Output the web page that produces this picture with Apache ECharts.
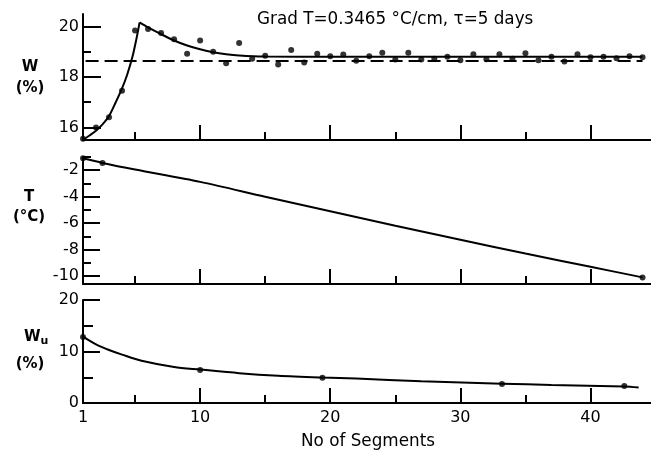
<!DOCTYPE html>
<html>
<head>
<meta charset="utf-8">
<script src="https://cdn.jsdelivr.net/npm/echarts@6/dist/echarts.min.js"></script>
<style>
  html, body { margin: 0; padding: 0; background: #fff; }
  #chart { width: 651px; height: 454px; }
</style>
</head>
<body>
<div id="chart"></div>
<script>
// ---- data ----
// Segment numbers of the measured column
const segments = [1, 2, 3, 4, 5, 6, 7, 8, 9, 10, 11, 12, 13, 14, 15, 16, 17, 18, 19, 20, 21, 22,
  23, 24, 25, 26, 27, 28, 29, 30, 31, 32, 33, 34, 35, 36, 37, 38, 39, 40, 41, 42, 43, 44];
// Measured total water content W (%) per segment
const wMeasured = [15.55, 16.0, 16.4, 17.45, 19.85, 19.9, 19.75, 19.5, 18.92, 19.45, 19.0, 18.55,
  19.35, 18.72, 18.84, 18.5, 19.07, 18.58, 18.92, 18.82, 18.89, 18.64, 18.82, 18.96, 18.69, 18.96,
  18.69, 18.72, 18.8, 18.66, 18.9, 18.7, 18.9, 18.72, 18.94, 18.66, 18.8, 18.62, 18.9, 18.78,
  18.8, 18.74, 18.82, 18.78];
// Computed W profile: rising branch and decaying branch (x = segment, y = W %)
const wRiseX = [1, 1.5, 2, 2.5, 3, 3.5, 4, 4.4, 4.8, 5.1, 5.35];
const wRiseY = [15.5, 15.68, 15.87, 16.12, 16.45, 16.98, 17.55, 18.1, 18.8, 19.5, 20.17];
const wDecayX = [5.35, 6, 7, 8, 9, 10, 11, 12, 13, 15, 20, 30, 44];
const wDecayY = [20.17, 19.97, 19.7, 19.45, 19.25, 19.1, 18.98, 18.9, 18.85, 18.81, 18.8, 18.8, 18.8];
// Initial water content (dashed level)
const wInitialX = [1.2, 44];
const wInitialY = [18.63, 18.63];

// Temperature profile T (°C)
const tLineX = [1, 2.5, 5, 10, 15, 20, 25, 30, 35, 40, 44];
const tLineY = [-1.1, -1.45, -1.95, -2.88, -4.0, -5.1, -6.2, -7.25, -8.3, -9.3, -10.1];
const tDotX = [1, 2.5, 44];
const tDotY = [-1.1, -1.45, -10.1];

// Unfrozen water content Wu (%)
const wuLineX = [1, 2, 3, 4, 5.5, 8, 10, 13, 16, 19.4, 22, 27, 33.2, 37, 42.6, 43.7];
const wuLineY = [12.9, 11.4, 10.3, 9.4, 8.2, 7.0, 6.5, 5.8, 5.3, 4.95, 4.75, 4.2, 3.75, 3.5, 3.2, 3.0];
const wuDotX = [1, 10, 19.4, 33.2, 42.6];
const wuDotY = [12.8, 6.4, 4.9, 3.7, 3.3];

// Axis ticks and labels
const xMin = 1, xMax = 44.65;
const xMajorTicks = [10, 20, 30, 40];
const xMinorTicks = [5, 15, 25, 35];
const xLabels = [1, 10, 20, 30, 40];
const wRange = [15.5, 20.5], wMajor = [16, 18, 20], wMinor = [17, 19];
const tRange = [-10.6, -1], tMajor = [-10, -8, -6, -4, -2], tMinor = [-9, -7, -5, -3, -1];
const wuRange = [0, 20], wuMajor = [10, 20], wuMinor = [5, 15], wuLabels = [0, 10, 20];

const titleText = 'Grad T=0.3465 °C/cm, τ=5 days';
const xTitle = 'No of Segments';

// ---- helpers ----
const pairs = (xs, ys) => xs.map((x, i) => [x, ys[i]]);
const FONT = 'DejaVu Sans';
const INK = '#000';
const axisLine = { show: true, onZero: false, lineStyle: { color: INK, width: 2 } };

function xAxes(grid, withLabels) {
  return [
    {
      type: 'value', gridIndex: grid, min: xMin, max: xMax, position: 'bottom',
      axisLine: axisLine,
      axisTick: { show: true, inside: true, length: 15, customValues: xMajorTicks, lineStyle: { color: INK, width: 2 } },
      axisLabel: withLabels
        ? { show: true, customValues: xLabels, margin: 7, color: INK, fontSize: 16, fontFamily: FONT }
        : { show: false },
      splitLine: { show: false }
    },
    {
      type: 'value', gridIndex: grid, min: xMin, max: xMax, position: 'bottom',
      axisLine: { show: false, onZero: false },
      axisTick: { show: true, inside: true, length: 8, customValues: xMinorTicks, lineStyle: { color: INK, width: 2 } },
      axisLabel: { show: false },
      splitLine: { show: false }
    }
  ];
}

function yAxes(grid, range, major, minor, labels, majorLen, minorLen) {
  return [
    {
      type: 'value', gridIndex: grid, min: range[0], max: range[1], position: 'left',
      axisLine: axisLine,
      axisTick: { show: true, inside: true, length: majorLen, customValues: major, lineStyle: { color: INK, width: 2 } },
      axisLabel: { show: true, customValues: labels, margin: 4, color: INK, fontSize: 16, fontFamily: FONT },
      splitLine: { show: false }
    },
    {
      type: 'value', gridIndex: grid, min: range[0], max: range[1], position: 'left',
      axisLine: { show: false, onZero: false },
      axisTick: { show: true, inside: true, length: minorLen, customValues: minor, lineStyle: { color: INK, width: 2 } },
      axisLabel: { show: false },
      splitLine: { show: false }
    }
  ];
}

function line(data, xi, yi, extra) {
  return Object.assign({
    type: 'line', data: data, xAxisIndex: xi, yAxisIndex: yi,
    symbol: 'none', smooth: 0.3, silent: true,
    lineStyle: { color: INK, width: 2 }, z: 3
  }, extra || {});
}
function dots(data, xi, yi) {
  return {
    type: 'scatter', data: data, xAxisIndex: xi, yAxisIndex: yi,
    symbol: 'circle', symbolSize: 6, silent: true,
    itemStyle: { color: INK }, z: 4
  };
}

const chart = echarts.init(document.getElementById('chart'), null, { renderer: 'canvas' });

const option = {
  animation: false,
  backgroundColor: '#fff',
  textStyle: { fontFamily: FONT },
  grid: [
    { left: 83, top: 14, width: 568, height: 126 },
    { left: 83, top: 157, width: 568, height: 127 },
    { left: 83, top: 300, width: 568, height: 103 }
  ],
  xAxis: [].concat(xAxes(0, false), xAxes(1, false), xAxes(2, true)),
  yAxis: [].concat(
    yAxes(0, wRange, wMajor, wMinor, wMajor, 18, 8),
    yAxes(1, tRange, tMajor, tMinor, tMajor, 17, 8),
    yAxes(2, wuRange, wuMajor, wuMinor, wuLabels, 17, 10)
  ),
  graphic: [
    { type: 'text', left: 257, top: 11, style: { text: titleText, font: '16.8px "DejaVu Sans"', fill: INK } },
    { type: 'text', x: 30, y: 67, style: { text: 'W', font: 'bold 15px "DejaVu Sans"', fill: INK, align: 'center', verticalAlign: 'middle' } },
    { type: 'text', x: 30, y: 88, style: { text: '(%)', font: 'bold 15px "DejaVu Sans"', fill: INK, align: 'center', verticalAlign: 'middle' } },
    { type: 'text', x: 29, y: 197, style: { text: 'T', font: 'bold 15px "DejaVu Sans"', fill: INK, align: 'center', verticalAlign: 'middle' } },
    { type: 'text', x: 29, y: 217, style: { text: '(°C)', font: 'bold 15px "DejaVu Sans"', fill: INK, align: 'center', verticalAlign: 'middle' } },
    {
      type: 'text', x: 24, y: 337,
      style: {
        text: '{a|W}{b|u}', fill: INK, verticalAlign: 'middle',
        rich: {
          a: { font: 'bold 15px "DejaVu Sans"', fill: INK },
          b: { font: 'bold 11px "DejaVu Sans"', fill: INK, padding: [8, 0, 0, 0] }
        }
      }
    },
    { type: 'text', x: 30, y: 364, style: { text: '(%)', font: 'bold 15px "DejaVu Sans"', fill: INK, align: 'center', verticalAlign: 'middle' } },
    { type: 'text', x: 368, y: 442, style: { text: xTitle, font: '16.8px "DejaVu Sans"', fill: INK, align: 'center', verticalAlign: 'middle' } }
  ],
  series: [
    // W panel
    line(pairs(wInitialX, wInitialY), 0, 0, { smooth: false, lineStyle: { color: INK, width: 2, type: [13, 6] } }),
    line(pairs(wRiseX, wRiseY), 0, 0),
    line(pairs(wDecayX, wDecayY), 0, 0),
    dots(pairs(segments, wMeasured), 0, 0),
    // T panel
    line(pairs(tLineX, tLineY), 2, 2),
    dots(pairs(tDotX, tDotY), 2, 2),
    // Wu panel
    line(pairs(wuLineX, wuLineY), 4, 4),
    dots(pairs(wuDotX, wuDotY), 4, 4)
  ]
};

chart.setOption(option);
</script>
</body>
</html>
